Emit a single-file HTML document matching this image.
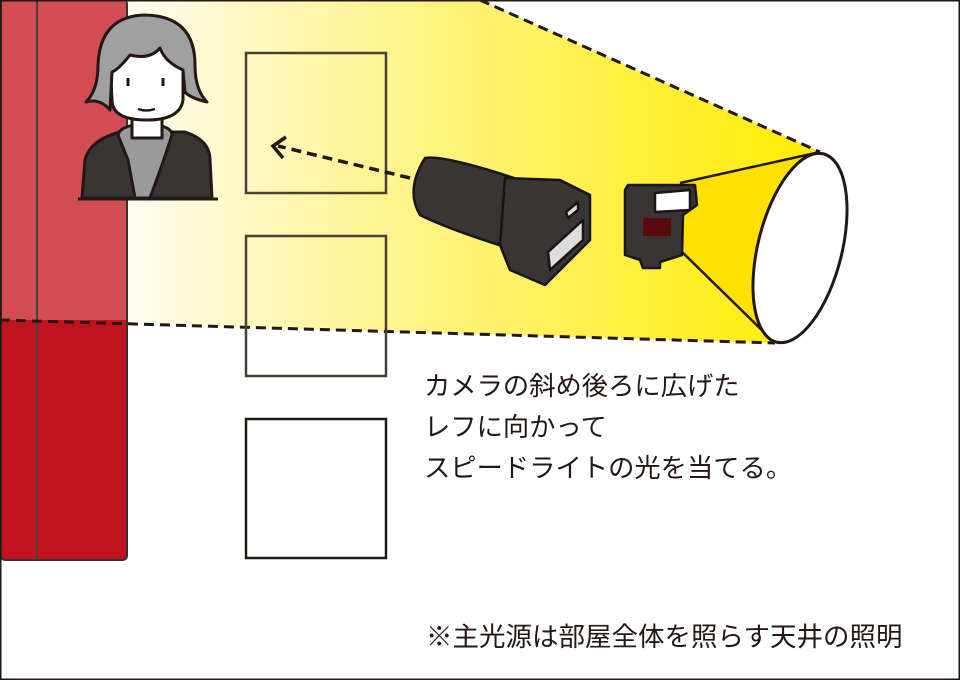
<!DOCTYPE html>
<html><head><meta charset="utf-8"><style>
body{margin:0;background:#fff}
svg{display:block}
text{font-family:"Liberation Sans","Noto Sans CJK JP",sans-serif;fill:#231815}
</style></head><body>
<svg width="960" height="680" viewBox="0 0 960 680" xmlns="http://www.w3.org/2000/svg">
<defs>
<linearGradient id="y" gradientUnits="userSpaceOnUse" x1="130" y1="0" x2="820" y2="0">
<stop offset="0" stop-color="#fffdf0"/>
<stop offset="0.3" stop-color="#fff5a0"/>
<stop offset="1" stop-color="#ffec00"/>
</linearGradient>
</defs>
<rect x="0" y="0" width="960" height="680" fill="#fff"/>
<polygon points="0,0 480,0 820,152 775,343 0,320" fill="url(#y)"/>
<!-- wall -->
<rect x="1" y="0" width="126" height="560" rx="4" fill="#c0151f" stroke="#333" stroke-width="2"/>
<rect x="2" y="0" width="124" height="320" fill="#d14c53"/>
<line x1="37" y1="0" x2="37" y2="558" stroke="#4a4040" stroke-width="2"/>
<line x1="0" y1="320" x2="775" y2="343" stroke="#231815" stroke-width="3" stroke-dasharray="10,6"/>
<line x1="480" y1="0" x2="820" y2="152" stroke="#231815" stroke-width="3" stroke-dasharray="10,6"/>
<!-- windows -->
<g fill="none" stroke="#4a4035" stroke-width="2.5">
<rect x="246" y="53" width="140" height="140"/>
<rect x="246" y="236" width="140" height="140"/>
</g>
<rect x="246" y="419" width="140" height="139" fill="#fff" stroke="#231815" stroke-width="2.5"/>
<!-- person -->
<g stroke="#231815" stroke-width="3" stroke-linejoin="round">
<path d="M82,198 L85,160 Q90,140 120,132 L185,132 Q210,140 210,160 L212,198 Z" fill="#3a3535"/>
<path d="M118,135 Q120,125 145,124 Q172,125 172,135 L163,162 L150,198 L135,198 L128,160 Z" fill="#9a9a9a"/>
<rect x="132" y="118" width="30" height="20" fill="#fff"/>
<path d="M110,60 Q110,25 147,25 Q185,25 183,60 L183,100 Q180,120 147,120 Q112,120 112,100 Z" fill="#fff"/>
<path d="M86,102 Q98,90 98,65 Q100,16 145,15 Q195,16 195,65 Q195,90 207,102 Q190,98 185,92 L183,70 Q165,62 160,48 Q150,60 130,55 Q118,70 112,72 L110,110 Q100,98 86,102 Z" fill="#a0a0a0"/>
</g>
<line x1="78" y1="199" x2="218" y2="199" stroke="#231815" stroke-width="3"/>
<line x1="128" y1="78" x2="128" y2="86" stroke="#231815" stroke-width="3"/>
<line x1="163" y1="78" x2="163" y2="86" stroke="#231815" stroke-width="3"/>
<path d="M138,109 Q146,112 155,109" stroke="#231815" stroke-width="2.5" fill="none"/>
<!-- arrow -->
<line x1="410" y1="178" x2="278" y2="146" stroke="#231815" stroke-width="3.5" stroke-dasharray="10,6"/>
<path d="M286,137 L273,146 L283,158" stroke="#231815" stroke-width="3.5" fill="none"/>
<!-- cone -->
<polygon points="680,183 820,152 775,343 680,250" fill="#ffe000"/>
<line x1="680" y1="183" x2="820" y2="152" stroke="#231815" stroke-width="2.5"/>
<line x1="680" y1="250" x2="775" y2="343" stroke="#231815" stroke-width="2.5"/>
<ellipse cx="800" cy="248" rx="42" ry="97" transform="rotate(14 800 248)" fill="#fff" stroke="#231815" stroke-width="3"/>
<!-- camera -->
<g stroke="#1a1414" stroke-width="2.5" stroke-linejoin="round">
<path d="M425,158 Q445,155 520,180 L515,250 Q450,230 420,215 Q405,190 425,158 Z" fill="#3a3535"/>
<path d="M505,178 L560,180 L590,195 L590,240 L545,285 L510,270 L500,245 Z" fill="#3a3535"/>
<path d="M548,252 L583,220 L583,240 L550,270 Z" fill="#ddd"/>
<path d="M566,212 L578,202 L578,210 L568,218 Z" fill="#ddd"/>
<path d="M625,190 L628,185 L695,185 L697,205 L683,215 L682,255 L660,262 L660,268 L643,268 L640,260 L625,255 Z" fill="#3a3535"/>
<path d="M655,193 L690,190 L690,210 L655,212 Z" fill="#fff"/>
<rect x="643" y="218" width="28" height="18" fill="#5a0a0a" stroke="none"/>
</g>
<!-- text -->
<text font-size="26.3" x="424" y="395">カメラの斜め後ろに広げた</text>
<text font-size="26.3" x="424" y="436">レフに向かって</text>
<text font-size="26.3" x="424" y="477">スピードライトの光を当てる。</text>
<text font-size="26.5" x="426" y="646">※主光源は部屋全体を照らす天井の照明</text>
<rect x="0.75" y="0.75" width="958.5" height="678.5" fill="none" stroke="#231815" stroke-width="1.5"/>
</svg>
</body></html>
